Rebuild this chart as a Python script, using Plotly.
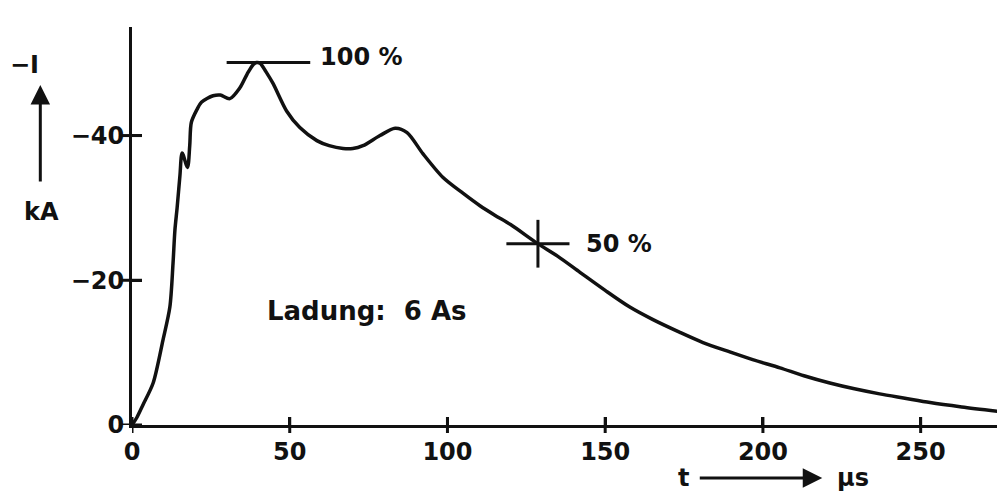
import numpy as np
import plotly.graph_objects as go

# Lightning current impulse: time in microseconds, current in kA (negative polarity)
t_us = [0, 1.5, 3.5, 6.7, 9.8, 12.0, 13.0, 13.6, 14.3, 15.2, 15.9, 17.6, 18.3,
        18.8, 20.6, 22.0, 25.7, 28.0, 31.0, 34.2, 36.5, 38.4, 39.5, 40.6, 42.5,
        44.7, 49.0, 53.2, 58.6, 62.5, 66.9, 70.0, 73.2, 78.6, 83.4, 87.2, 92.2,
        98.6, 105.0, 110.3, 115.0, 120.0, 128.5, 135.0, 142.0, 150.0, 157.8,
        165.0, 173.7, 181.0, 189.5, 197.0, 205.4, 213.0, 221.2, 229.0, 237.0,
        245.0, 253.0, 263.0, 274.5]
current_kA = [0, -1.0, -2.8, -5.8, -11.7, -16.3, -22.3, -26.9, -30.0, -34.5,
              -37.6, -35.6, -38.6, -41.8, -43.6, -44.6, -45.5, -45.6, -45.1,
              -46.6, -48.5, -49.8, -50.1, -50.0, -48.8, -47.2, -43.4, -41.1,
              -39.3, -38.6, -38.2, -38.2, -38.6, -40.0, -41.0, -40.4, -37.5,
              -34.2, -32.0, -30.3, -29.0, -27.7, -25.1, -23.3, -21.1, -18.6,
              -16.3, -14.6, -12.8, -11.4, -10.1, -9.0, -7.9, -6.8, -5.8, -5.0,
              -4.3, -3.7, -3.1, -2.5, -1.9]

x_ticks = [0, 50, 100, 150, 200, 250]
x_labels = ["0", "50", "100", "150", "200", "250"]
y_ticks = [0, -20, -40]
y_labels = ["0", "−20", "−40"]
charge_label = "Ladung:  6 As"

X_RANGE = [0, 274.2]
Y_RANGE = [0, -55]

INK = "#111111"
FONT = dict(family="DejaVu Sans", size=24, color=INK)


def bold(s):
    return f"<b>{s}</b>"


# plot-area size in pixels, used to size the cross ticks
PLOT_W, PLOT_H = 997 - 132, 496 - 27 - 71

t = np.array(t_us)
i = np.array(current_kA)

# peak value and the time it occurs
k_peak = int(np.argmin(i))
i_peak, t_peak = i[k_peak], t[k_peak]

# time to half value on the tail (after the second hump)
tail = t > 95
t_half = float(np.interp(-0.5 * i_peak, -i[tail][::-1], t[tail][::-1]))
i_half = 0.5 * i_peak

fig = go.Figure()

fig.add_trace(go.Scatter(
    x=t, y=i, mode="lines",
    line=dict(color=INK, width=3.5, shape="spline", smoothing=0.8),
    hoverinfo="skip", showlegend=False))

# 100 % marker: horizontal bar through the peak
fig.add_trace(go.Scatter(
    x=[t_peak - 9.5, t_peak + 17], y=[i_peak, i_peak], mode="lines",
    line=dict(color=INK, width=3), hoverinfo="skip", showlegend=False))

# 50 % marker: cross at the half-value point
fig.add_trace(go.Scatter(
    x=[t_half - 10, t_half + 10, None, t_half, t_half],
    y=[i_half, i_half, None, i_half - 3.3, i_half + 3.3], mode="lines",
    line=dict(color=INK, width=3), hoverinfo="skip", showlegend=False))

# cross-shaped tick marks on both axes (half inside, half outside)
shapes = []
for v in x_ticks:
    shapes.append(dict(type="line", xref="x", yref="paper",
                       x0=v, x1=v, y0=-8 / PLOT_H, y1=8 / PLOT_H,
                       line=dict(color=INK, width=3)))
for v in y_ticks:
    shapes.append(dict(type="line", xref="paper", yref="y",
                       x0=-10 / PLOT_W, x1=10 / PLOT_W, y0=v, y1=v,
                       line=dict(color=INK, width=3)))

annotations = [
    dict(x=t_peak + 19.5, y=i_peak - 0.8, xref="x", yref="y",
         text=bold("100 %"), showarrow=False, xanchor="left",
         yanchor="middle", font=FONT),
    dict(x=t_half + 14.5, y=i_half, xref="x", yref="y", text=bold("50 %"),
         showarrow=False, xanchor="left", yanchor="middle", font=FONT),
    dict(x=74.5, y=-15.7, xref="x", yref="y", text=bold(charge_label),
         showarrow=False, xanchor="center", yanchor="middle",
         font=dict(FONT, size=26)),
    # y-axis title: -I with upward arrow and unit
    dict(x=-0.124, y=0.905, xref="paper", yref="paper", text=bold("−I"),
         showarrow=False, xanchor="center", yanchor="middle", font=FONT),
    dict(x=-0.106, y=0.854, xref="paper", yref="paper", text="",
         showarrow=True, ax=0, ay=98, arrowhead=2, arrowsize=1.3,
         arrowwidth=3, arrowcolor=INK),
    dict(x=-0.105, y=0.535, xref="paper", yref="paper", text=bold("kA"),
         showarrow=False, xanchor="center", yanchor="middle", font=FONT),
    # x-axis title: t with arrow towards unit
    dict(x=0.637, y=-0.133, xref="paper", yref="paper", text=bold("t"),
         showarrow=False, xanchor="center", yanchor="middle", font=FONT),
    dict(x=0.798, y=-0.133, xref="paper", yref="paper", text="",
         showarrow=True, ax=-124, ay=0, arrowhead=2, arrowsize=1.3,
         arrowwidth=3, arrowcolor=INK),
    dict(x=0.834, y=-0.133, xref="paper", yref="paper", text=bold("µs"),
         showarrow=False, xanchor="center", yanchor="middle", font=FONT),
]

common = dict(showgrid=False, zeroline=False, tickcolor=INK, tickwidth=3)

fig.update_layout(
    width=997, height=496,
    margin=dict(l=132, r=0, t=27, b=71),
    paper_bgcolor="white", plot_bgcolor="white",
    font=FONT,
    shapes=shapes, annotations=annotations,
    # main axes: line, labels and the inner half of each cross tick
    xaxis=dict(range=X_RANGE, tickvals=x_ticks,
               ticktext=[bold(s) for s in x_labels],
               ticks="inside", ticklen=8, ticklabelstandoff=3,
               showline=True, linecolor=INK, linewidth=3, tickfont=FONT,
               **common),
    yaxis=dict(range=Y_RANGE, tickvals=y_ticks,
               ticktext=[bold(s) for s in y_labels],
               ticks="inside", ticklen=10,
               showline=True, linecolor=INK, linewidth=3, tickfont=FONT,
               **common),
    # overlay axes: the outer half of each cross tick
    xaxis2=dict(range=X_RANGE, overlaying="x", anchor="y", side="bottom",
                tickvals=x_ticks, ticks="outside", ticklen=8,
                showticklabels=False, showline=False, **common),
    yaxis2=dict(range=Y_RANGE, overlaying="y", anchor="x", side="left",
                tickvals=y_ticks, ticks="outside", ticklen=10,
                showticklabels=False, showline=False, **common),
)

fig.write_html("out.html")
